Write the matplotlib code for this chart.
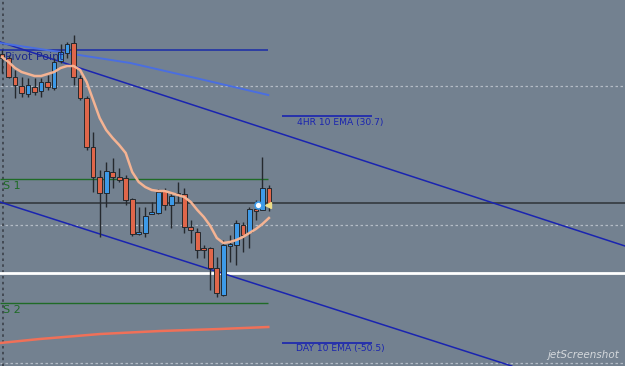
import numpy as np
import matplotlib.pyplot as plt

# candles (price units), one per bar
opens = [312, 308, 289, 280, 272, 279, 275, 284, 278, 305, 313, 323, 288, 268,
         219, 189, 173, 194, 189, 188, 167, 132, 133, 152, 153, 175, 161, 172,
         172, 139, 134, 118, 118, 98, 71, 120, 121, 141, 134, 157, 156, 178]
highs = [316, 311, 296, 289, 288, 288, 288, 291, 308, 322, 324, 331, 291, 270,
         234, 196, 204, 208, 198, 191, 168, 159, 159, 164, 177, 178, 174, 184,
         178, 146, 138, 121, 119, 109, 126, 131, 146, 144, 159, 166, 209, 181]
lows = [293, 288, 268, 269, 269, 271, 269, 276, 276, 303, 308, 281, 266, 216,
        174, 129, 159, 178, 184, 161, 130, 131, 129, 152, 152, 156, 138, 164,
        133, 123, 108, 108, 76, 69, 70, 104, 101, 114, 118, 146, 156, 155]
closes = [308, 289, 281, 273, 281, 274, 284, 279, 304, 314, 322, 289, 268, 219,
          189, 173, 195, 189, 186, 166, 132, 134, 150, 154, 174, 161, 170, 173,
          139, 136, 116, 116, 98, 73, 121, 122, 143, 131, 157, 155, 178, 163]

# 10 EMA on the 4H chart (one value per bar)
ema_fast = [309, 304, 298, 294, 292, 290, 290, 292, 294, 298, 300, 300, 296, 284,
            266, 248, 236, 228, 221, 213, 194, 184, 179, 176, 175, 175, 173, 171,
            169, 164, 156, 149, 140, 128, 123, 124, 126, 129, 133, 137, 142, 148]

# higher timeframe EMAs drawn as curves (bar index, price)
ema4h_x = [-0.3, 8.9, 19.7, 30.4, 40.9]
ema4h_y = [323, 314, 303, 287, 271]
emaday_x = [-0.3, 5.8, 15.1, 24.3, 33.5, 40.9]
emaday_y = [23, 27, 32, 35, 37, 39]

# levels
pivot = 316
s1 = 187
s2 = 63
last_price = 163
white_level = 93
grid_levels = [3, 141, 280]

# channel lines (bar index, price)
chan_hi_x = [-0.3, 95.7]
chan_hi_y = [324, 120]
chan_lo_x = [-0.3, 78.3]
chan_lo_y = [164, 0]

bg = '#738190'
up_col = '#3d9ae8'
dn_col = '#e0664a'

fig = plt.figure(figsize=(6.25, 3.66), dpi=100)
ax = fig.add_axes([0, 0, 1, 1])
ax.set_facecolor(bg)
fig.patch.set_facecolor(bg)
ax.set_xlim(-0.31, 95.7)
ax.set_ylim(0, 366)
ax.set_axis_off()

x = np.arange(len(opens))
o = np.array(opens)
c = np.array(closes)
end = x[-1] - 0.1

# grid
for g in grid_levels:
    ax.axhline(g, color='#b4bcc6', lw=0.9, ls=(0, (2, 2)), zorder=1)
ax.axvline(0.15, color='#3a4048', lw=1.2, ls=(0, (1.5, 2)), zorder=1)

# horizontal levels
ax.axhline(last_price, color='#2f3338', lw=1.1, zorder=2)
ax.axhline(white_level, color='white', lw=2, zorder=2)
ax.hlines(pivot, -0.31, end, color='#1a2ba8', lw=1.1, zorder=2)
ax.hlines([s1, s2], -0.31, end, color='#1f6b26', lw=1.0, zorder=2)

# channel
ax.plot(chan_hi_x, chan_hi_y, color='#1a24b0', lw=1.1, zorder=2)
ax.plot(chan_lo_x, chan_lo_y, color='#1a24b0', lw=1.1, zorder=2)

# higher timeframe EMAs
ax.plot(ema4h_x, ema4h_y, color='#4a6ee0', lw=1.4, zorder=2)
ax.plot(emaday_x, emaday_y, color='#f07058', lw=1.8, zorder=2)

# candles
ax.vlines(x, lows, highs, color='#25292e', lw=1.0, zorder=3)
cols = [up_col if cc >= oo else dn_col for oo, cc in zip(o, c)]
h = c - o
h = np.where(np.abs(h) < 1.5, np.sign(h + 0.01) * 1.5, h)
ax.bar(x, h, bottom=o, width=0.72, color=cols, edgecolor='#25292e',
       linewidth=0.7, zorder=4)

ax.plot(x, ema_fast, color='#f4b393', lw=1.8, zorder=5)

# current-bar markers
ax.plot(39.3, 161, marker='o', ms=5, mfc='white', mec='#3d9ae8', mew=1.2, zorder=6)
ax.plot(40.9, 161, marker='<', ms=5, mfc='#f0e08a', mec='#f0e08a', zorder=6)

# labels
ax.text(0.5, pivot - 7, 'Pivot Point', color='#1c2a8c', fontsize=8, va='center',
        zorder=6)
ax.text(0.2, s1 - 7, 'S 1', color='#1f6b26', fontsize=8, va='center', zorder=6)
ax.text(0.2, s2 - 7, 'S 2', color='#1f6b26', fontsize=8, va='center', zorder=6)

ax.hlines(250, 43.0, 56.8, color='#1a24b0', lw=1.2)
ax.text(45.3, 243, '4HR 10 EMA (30.7)', color='#1a24b0', fontsize=6.6, va='center')
ax.hlines(23, 43.0, 56.8, color='#1a24b0', lw=1.2)
ax.text(45.2, 17, 'DAY 10 EMA (-50.5)', color='#1a24b0', fontsize=6.6, va='center')

ax.text(94.8, 11, 'jetScreenshot', color='#d4d8dc', fontsize=7.5, style='italic',
        ha='right', va='center')

fig.savefig('out.png', dpi=100, facecolor=bg)
